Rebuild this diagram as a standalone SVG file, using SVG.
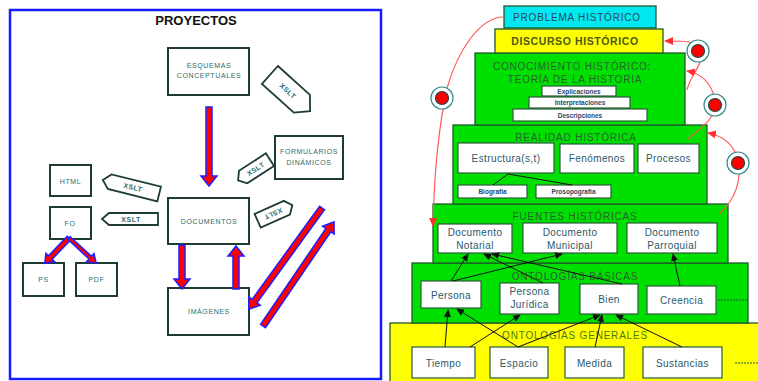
<svg xmlns="http://www.w3.org/2000/svg" width="758" height="381" viewBox="0 0 758 381">
<defs>
<style>
.lt{font-family:"Liberation Sans",Arial,sans-serif;font-size:7px;fill:#2b6b6b;text-anchor:middle;letter-spacing:0.6px}
.lb{fill:#fff;stroke:#1e3c32;stroke-width:2}
.ar{fill:#ff0000;stroke:#1f1fff;stroke-width:1.5}
.tag{fill:#fff;stroke:#1e3c32;stroke-width:1.8}
.tt{font-family:"Liberation Sans",Arial,sans-serif;font-size:7px;font-weight:bold;fill:#2b6b6b;text-anchor:middle;letter-spacing:0.5px}
.layer{stroke:#1e5a2a;stroke-width:1.3}
.ib{fill:#fff;stroke:#2a5a3a;stroke-width:1.2}
.it{font-family:"Liberation Sans",Arial,sans-serif;font-size:10px;fill:#2a5868;text-anchor:middle;letter-spacing:0.4px}
.st{font-family:"Liberation Sans",Arial,sans-serif;font-size:6.5px;font-weight:bold;fill:#2a4868;text-anchor:middle}
.hd{font-family:"Liberation Sans",Arial,sans-serif;font-size:10px;fill:#2a6030;text-anchor:middle;letter-spacing:0.8px}
.ln{stroke:#111;stroke-width:1;fill:none;marker-end:url(#bh)}
.rc{stroke:#ff5a5a;stroke-width:1.2;fill:none;marker-end:url(#rh)}
.ring{fill:#fff;stroke:#3a8a8a;stroke-width:1.2}
.dot{fill:#ff0000;stroke:#1a4a4a;stroke-width:1.2}
.dash{stroke:#2a5a3a;stroke-width:1;stroke-dasharray:2,1}
</style>
<marker id="bh" markerWidth="8" markerHeight="8" refX="7" refY="4" orient="auto" markerUnits="userSpaceOnUse">
<path d="M0,0.5 L8,4 L0,7.5 Z" fill="#111"/>
</marker>
<marker id="rh" markerWidth="9" markerHeight="9" refX="8" refY="4.5" orient="auto" markerUnits="userSpaceOnUse">
<path d="M0,0.5 L9,4.5 L0,8.5 Z" fill="#ff3030"/>
</marker>
</defs>
<rect x="0" y="0" width="758" height="381" fill="#fff"/>

<!-- LEFT PANEL -->
<g id="proyectos">
<rect x="10" y="10" width="371" height="369" fill="#fff" stroke="#1a1aff" stroke-width="2.5"/>
<text x="196" y="25" font-family="Liberation Sans,Arial,sans-serif" font-size="13" font-weight="bold" fill="#111" text-anchor="middle">PROYECTOS</text>
</g>
<g id="esquemas"><rect class="lb" x="168" y="48" width="81" height="47"/><text class="lt" x="209" y="68">ESQUEMAS</text><text class="lt" x="209" y="78">CONCEPTUALES</text></g>
<g id="formularios"><rect class="lb" x="275" y="136" width="68" height="43"/><text class="lt" x="309" y="154">FORMULARIOS</text><text class="lt" x="309" y="165">DINÁMICOS</text></g>
<g id="html"><rect class="lb" x="50" y="165" width="41" height="31"/><text class="lt" x="70.5" y="183.5">HTML</text></g>
<g id="fo"><rect class="lb" x="50" y="207" width="41" height="32"/><text class="lt" x="70" y="225.5">FO</text></g>
<g id="ps"><rect class="lb" x="23" y="263" width="41" height="33"/><text class="lt" x="43.5" y="282">PS</text></g>
<g id="pdf"><rect class="lb" x="76" y="263" width="41" height="33"/><text class="lt" x="96.5" y="282">PDF</text></g>
<g id="documentos"><rect class="lb" x="168" y="198" width="81" height="46"/><text class="lt" x="209" y="223.5">DOCUMENTOS</text></g>
<g id="imagenes"><rect class="lb" x="168" y="288" width="81" height="47"/><text class="lt" x="209" y="313.5">IMÁGENES</text></g>

<g id="tag1" transform="translate(290,93) rotate(42)"><path class="tag" d="M-27,-12 H16 L27,0 L16,12 H-27 Z"/><text class="tt" x="-3" y="2.5">XSLT</text></g>
<g id="tag2" transform="translate(131,187) rotate(14)"><path class="tag" d="M-29,0 L-22,-7.5 H29 V7.5 H-22 Z"/><text class="tt" x="2" y="2.5">XSLT</text></g>
<g id="tag3" transform="translate(130,219)"><path class="tag" d="M-28,0 L-21,-6 H28 V6 H-21 Z"/><text class="tt" x="1" y="2.5">XSLT</text></g>
<g id="tag4" transform="translate(254,170) rotate(-33)"><path class="tag" d="M-19,0 L-13,-7.5 H19 V7.5 H-13 Z"/><text class="tt" x="2" y="2.5">XSLT</text></g>
<g id="tag5" transform="translate(275,213) rotate(156)"><path class="tag" d="M-19,0 L-13,-7.5 H19 V7.5 H-13 Z"/><text class="tt" x="2" y="2.5">XSLT</text></g>

<g id="left-connectors">
<path class="ar" transform="translate(209,107) rotate(90)" d="M0,-3H69V-8L79,0L69,8V3H0Z"/>
<path class="ar" transform="translate(182,245) rotate(90)" d="M0,-3H34V-8L44,0L34,8V3H0Z"/>
<path class="ar" transform="translate(236,289) rotate(-90)" d="M0,-3H33V-8L43,0L33,8V3H0Z"/>
<path class="ar" transform="translate(322,208) rotate(125.9)" d="M0,-3H115V-7L125,0L115,7V3H0Z"/>
<path class="ar" transform="translate(263,326) rotate(-55.7)" d="M0,-3H116V-7L126,0L116,7V3H0Z"/>
<path class="ar" transform="translate(69,238) rotate(133.8)" d="M0,-2.5H27V-6L35,0L27,6V2.5H0Z"/>
<path class="ar" transform="translate(69,238) rotate(42.8)" d="M0,-1.8H29V-5.5L37,0L29,5.5V1.8H0Z"/>
</g>

<!-- RIGHT PANEL -->
<g id="generales"><rect class="layer" x="390" y="323" width="370" height="60" fill="#ffff00"/><text class="hd" x="575" y="339" fill="#4a7a10" style="fill:#4a7a10">ONTOLOGÍAS GENERALES</text></g>
<g id="basicas"><rect class="layer" x="412" y="263" width="336" height="60" fill="#00e000"/><text class="hd" x="575" y="280">ONTOLOGÍAS BÁSICAS</text></g>
<g id="fuentes"><rect class="layer" x="433" y="204" width="295" height="59" fill="#00e000"/><text class="hd" x="575" y="220">FUENTES HISTÓRICAS</text></g>
<g id="realidad"><rect class="layer" x="453" y="125" width="254" height="79" fill="#00e000"/><text class="hd" x="576" y="141">REALIDAD HISTÓRICA</text></g>
<g id="conocimiento"><rect class="layer" x="475" y="53" width="210" height="72" fill="#00e000"/><text class="hd" x="572" y="70">CONOCIMIENTO HISTÓRICO:</text><text class="hd" x="575" y="83">TEORÍA DE LA HISTORIA</text></g>
<g id="discurso"><rect class="layer" x="495" y="29" width="168" height="24" fill="#ffff00"/><text x="575" y="45" font-family="Liberation Sans,Arial,sans-serif" font-size="10.5" font-weight="bold" fill="#4a5a10" text-anchor="middle" letter-spacing="0.6">DISCURSO HISTÓRICO</text></g>
<g id="problema"><rect class="layer" x="504" y="6" width="152" height="22" fill="#00e8f0"/><text class="hd" x="577" y="21" style="fill:#2a4a5a">PROBLEMA HISTÓRICO</text></g>

<g id="explicaciones"><rect class="ib" x="542" y="86" width="74" height="10"/><text class="st" x="579" y="93.5">Explicaciones</text></g>
<g id="interpretaciones"><rect class="ib" x="529" y="97" width="101" height="11"/><text class="st" x="580" y="105">Interpretaciones</text></g>
<g id="descripciones"><rect class="ib" x="513" y="109" width="134" height="12"/><text class="st" x="580" y="117.5">Descripciones</text></g>

<g id="estructura"><rect class="ib" x="458" y="143" width="96" height="30"/><text class="it" x="506" y="162">Estructura(s,t)</text></g>
<g id="fenomenos"><rect class="ib" x="560" y="144" width="74" height="29"/><text class="it" x="597" y="162">Fenómenos</text></g>
<g id="procesos"><rect class="ib" x="638" y="144" width="61" height="29"/><text class="it" x="668.5" y="162">Procesos</text></g>
<g id="biografia"><rect class="ib" x="458" y="185" width="69" height="13"/><text class="st" x="492.5" y="194">Biografía</text></g>
<g id="prosopografia"><rect class="ib" x="536" y="185" width="75" height="13"/><text class="st" x="573.5" y="194">Prosopografía</text></g>

<g id="notarial"><rect class="ib" x="438" y="224" width="74" height="29"/><text class="it" x="475" y="235.5">Documento</text><text class="it" x="475" y="249">Notarial</text></g>
<g id="municipal"><rect class="ib" x="523" y="223" width="94" height="30"/><text class="it" x="570" y="235.5">Documento</text><text class="it" x="570" y="249">Municipal</text></g>
<g id="parroquial"><rect class="ib" x="627" y="223" width="90" height="30"/><text class="it" x="672" y="235.5">Documento</text><text class="it" x="672" y="249">Parroquial</text></g>

<g id="persona"><rect class="ib" x="421" y="281" width="60" height="27"/><text class="it" x="451" y="298.5">Persona</text></g>
<g id="juridica"><rect class="ib" x="500" y="283" width="59" height="31"/><text class="it" x="529.5" y="295">Persona</text><text class="it" x="529.5" y="308">Jurídica</text></g>
<g id="bien"><rect class="ib" x="580" y="284" width="58" height="30"/><text class="it" x="609" y="302.5">Bien</text></g>
<g id="creencia"><rect class="ib" x="647" y="286" width="69" height="28"/><text class="it" x="681.5" y="303.5">Creencia</text></g>

<g id="tiempo"><rect class="ib" x="412" y="347" width="63" height="31"/><text class="it" x="443.5" y="366.5">Tiempo</text></g>
<g id="espacio"><rect class="ib" x="490" y="347" width="58" height="31"/><text class="it" x="519" y="366.5">Espacio</text></g>
<g id="medida"><rect class="ib" x="565" y="347" width="59" height="31"/><text class="it" x="594.5" y="366.5">Medida</text></g>
<g id="sustancias"><rect class="ib" x="643" y="347" width="79" height="31"/><text class="it" x="682.5" y="366.5">Sustancias</text></g>

<g id="connectors">
<line class="dash" x1="718" y1="300" x2="748" y2="300"/>
<line class="dash" x1="735" y1="363" x2="758" y2="363"/>
<path d="M508,174 L493,185 M508,174 L572,185" stroke="#111" stroke-width="1" fill="none"/>
<line class="ln" x1="451" y1="281" x2="468" y2="254"/>
<line class="ln" x1="453" y1="281" x2="562" y2="254"/>
<line class="ln" x1="543" y1="283" x2="484" y2="254"/>
<line class="ln" x1="622" y1="284" x2="492" y2="254"/>
<line class="ln" x1="680" y1="286" x2="673" y2="254"/>
<line class="ln" x1="445" y1="347" x2="448" y2="310"/>
<line class="ln" x1="518" y1="347" x2="457" y2="309"/>
<line class="ln" x1="470" y1="347" x2="520" y2="315"/>
<line class="ln" x1="518" y1="347" x2="600" y2="315"/>
<line class="ln" x1="595" y1="347" x2="602" y2="315"/>
<line class="ln" x1="682" y1="347" x2="616" y2="315"/>
<path class="rc" d="M504,17 C480,17 458,50 447,88 C438,130 434,180 433,226"/>
<path class="rc" d="M687,90 C690,75 706,62 701,48 C697,42 688,41 665,41"/>
<path class="rc" d="M687,140 C700,128 718,118 715,100 C712,85 703,74 687,71"/>
<path class="rc" d="M720,213 C735,200 742,180 738,160 C734,145 724,136 708,133"/>
</g>
<g id="circle-left"><circle class="ring" cx="442" cy="98" r="11"/><circle class="dot" cx="442" cy="98" r="6.5"/></g>
<g id="circle-1"><circle class="ring" cx="698" cy="51" r="11"/><circle class="dot" cx="698" cy="51" r="6.5"/></g>
<g id="circle-2"><circle class="ring" cx="715" cy="105" r="11"/><circle class="dot" cx="715" cy="105" r="6.5"/></g>
<g id="circle-3"><circle class="ring" cx="738" cy="163" r="11"/><circle class="dot" cx="738" cy="163" r="6.5"/></g>
</svg>
